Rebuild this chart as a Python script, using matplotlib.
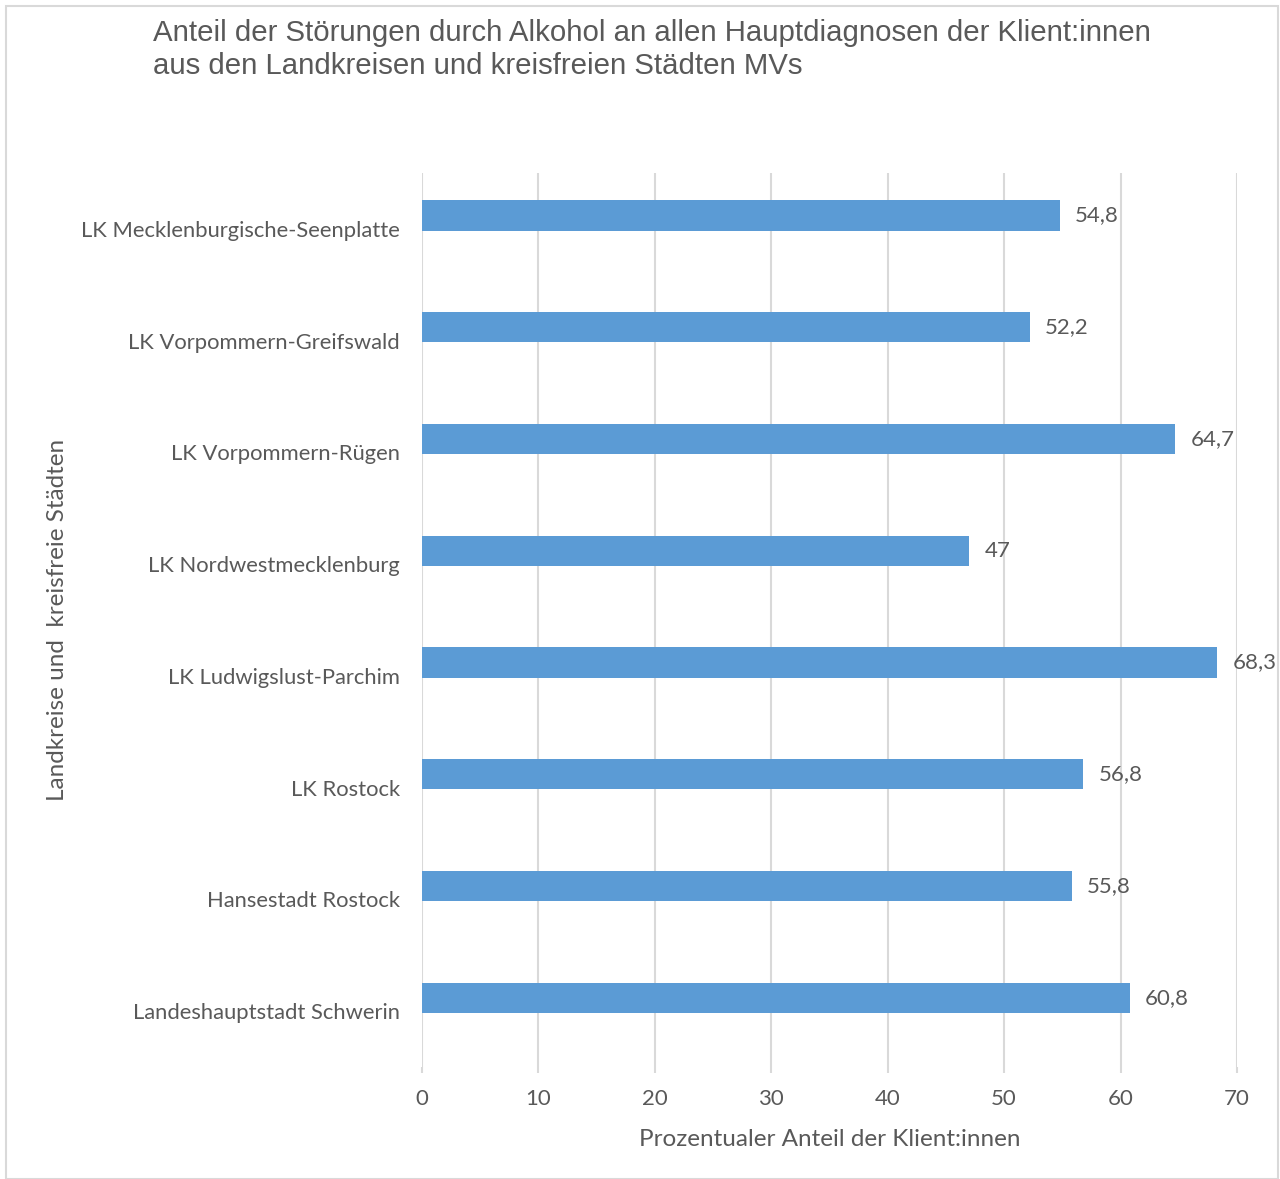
import matplotlib
matplotlib.use("Agg")
import matplotlib.pyplot as plt
from matplotlib.patches import Rectangle

# data (top to bottom as shown)
regions = [
    "LK Mecklenburgische-Seenplatte",
    "LK Vorpommern-Greifswald",
    "LK Vorpommern-Rügen",
    "LK Nordwestmecklenburg",
    "LK Ludwigslust-Parchim",
    "LK Rostock",
    "Hansestadt Rostock",
    "Landeshauptstadt Schwerin",
]
shares = [54.8, 52.2, 64.7, 47, 68.3, 56.8, 55.8, 60.8]
xticks = [0, 10, 20, 30, 40, 50, 60, 70]

TEXT = "#595959"
GRID = "#d9d9d9"
BAR = "#5b9bd5"
FONT = "Lato"

fig = plt.figure(figsize=(12.8, 11.79), dpi=100)
ax = fig.add_axes([0.3297, 1 - 1067 / 1179, 0.6367, (1067 - 173) / 1179])

# chart border
fig.patches.append(Rectangle((6 / 1280, 0), 1272 / 1280, 1 - 6 / 1179,
                             transform=fig.transFigure, fill=False,
                             edgecolor=GRID, linewidth=1.5))

ypos = list(range(len(regions)))
bar_y = [y - 0.12 for y in ypos]
ax.barh(bar_y, shares, height=0.27, color=BAR, zorder=3)

for y, v in zip(bar_y, shares):
    label = f"{v:g}".replace(".", ",")
    ax.text(v + 1.3, y, label, va="center", ha="left", fontsize=16,
            color=TEXT, family=FONT)

ax.set_ylim(len(regions) - 0.5, -0.5)
ax.set_xlim(0, 70)
ax.set_xticks(xticks)
ax.set_xticklabels([str(t) for t in xticks], fontsize=16, color=TEXT, family=FONT)
ax.set_yticks(ypos)
ax.set_yticklabels(regions, fontsize=15.8, color=TEXT, family=FONT)

ax.grid(axis="x", color=GRID, linewidth=1.5, zorder=0)
ax.tick_params(axis="y", length=0, pad=16)
ax.tick_params(axis="x", length=4, color=GRID, width=1.5, pad=12)
for s in ax.spines.values():
    s.set_visible(False)

ax.set_xlabel("Prozentualer Anteil der Klient:innen", fontsize=17.5, color=TEXT,
              family=FONT, labelpad=14)
fig.text(58 / 1280, 1 - 620 / 1179, "Landkreise und  kreisfreie Städten", rotation=90,
         ha="center", va="center", fontsize=17.5, color=TEXT, family=FONT)

fig.text(153 / 1280, 1 - 19 / 1179,
         "Anteil der Störungen durch Alkohol an allen Hauptdiagnosen der Klient:innen\n"
         "aus den Landkreisen und kreisfreien Städten MVs",
         ha="left", va="top", fontsize=21.2, color=TEXT, family="Liberation Sans",
         linespacing=1.25)

fig.savefig("out.png", dpi=100, facecolor="white")
